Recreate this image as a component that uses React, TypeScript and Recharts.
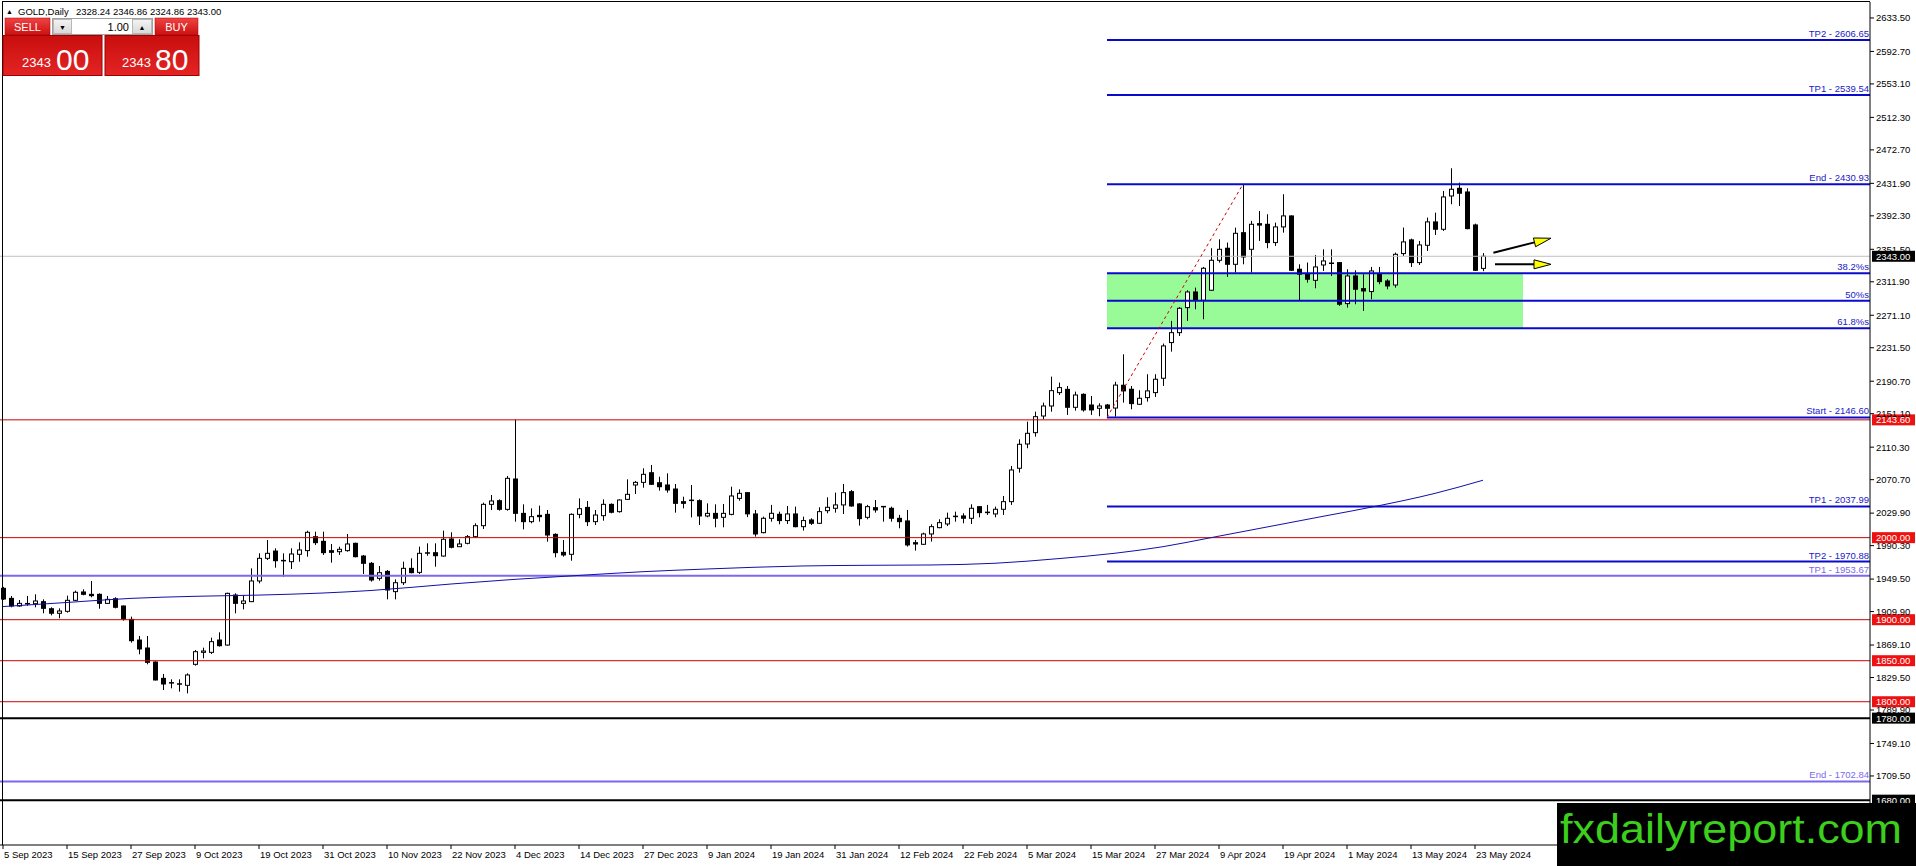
import React from 'react';
import { ComposedChart, Bar, Line, XAxis, YAxis, ReferenceLine, ReferenceArea } from 'recharts';

const FONT = '"Liberation Sans", Arial, sans-serif';

// ---- Daily OHLC (bar index 0 = 5 Sep 2023 ... 185 = 24 May 2024) ----
const opens = [
  1938.2, 1926.0, 1916.7, 1919.5, 1919.5, 1922.0, 1913.4, 1907.8, 1910.2, 1923.6,
  1933.8, 1930.9, 1930.9, 1919.9, 1925.6, 1916.7, 1900.4, 1875.2, 1865.5, 1848.4,
  1828.5, 1823.0, 1821.6, 1820.0, 1845.6, 1860.2, 1860.2, 1875.2, 1869.1, 1930.1,
  1919.9, 1922.0, 1947.2, 1974.8, 1983.7, 1972.0, 1970.7, 1979.7, 1984.2, 2001.2,
  1995.5, 1984.2, 1982.9, 1984.2, 1993.1, 1977.6, 1968.7, 1950.4, 1958.9, 1934.2,
  1945.1, 1962.6, 1957.7, 1981.3, 1981.7, 1977.6, 1998.4, 1989.0, 1993.1, 2001.2,
  2014.6, 2040.6, 2045.1, 2034.5, 2071.5, 2029.6, 2019.5, 2027.2, 2028.4, 2004.0,
  1982.1, 1979.7, 2028.4, 2036.9, 2019.5, 2026.8, 2040.6, 2031.7, 2046.7, 2064.2,
  2067.4, 2079.2, 2067.0, 2064.2, 2059.3, 2043.9, 2045.5, 2045.1, 2026.4, 2029.6,
  2024.8, 2028.4, 2047.9, 2054.9, 2028.9, 2006.1, 2023.6, 2028.5, 2020.8, 2028.9,
  2013.4, 2021.6, 2017.5, 2032.9, 2035.8, 2039.9, 2056.1, 2041.1, 2024.8, 2036.6,
  2037.8, 2035.8, 2023.6, 2020.4, 1993.9, 1991.9, 2004.5, 2012.2, 2016.7, 2025.6,
  2026.5, 2023.6, 2037.8, 2030.5, 2028.9, 2034.6, 2043.9, 2084.6, 2114.2, 2128.0,
  2148.3, 2160.5, 2176.8, 2180.8, 2158.9, 2174.7, 2161.7, 2157.7, 2161.7, 2158.0,
  2185.8, 2180.9, 2162.6, 2170.7, 2176.8, 2194.3, 2237.8, 2249.9, 2280.4, 2299.5,
  2289.4, 2301.6, 2338.1, 2352.8, 2333.2, 2371.8, 2351.5, 2382.8, 2382.0, 2359.7,
  2378.8, 2392.2, 2327.2, 2321.9, 2313.7, 2332.4, 2334.5, 2335.3, 2285.3, 2319.0,
  2303.6, 2300.0, 2321.9, 2312.9, 2308.0, 2346.3, 2363.0, 2335.3, 2356.4, 2384.9,
  2375.9, 2416.5, 2425.9, 2421.4, 2381.2, 2328.24,
];
const highs = [
  1940.0, 1928.9, 1924.0, 1929.0, 1930.9, 1924.8, 1915.1, 1913.8, 1929.3, 1935.4,
  1937.0, 1947.2, 1932.1, 1928.9, 1927.3, 1917.2, 1903.7, 1880.1, 1880.1, 1849.2,
  1833.8, 1827.3, 1827.3, 1834.6, 1863.0, 1865.9, 1878.1, 1884.6, 1932.9, 1932.1,
  1930.1, 1962.6, 1980.9, 1997.1, 1987.0, 1980.9, 1987.0, 1994.3, 2008.5, 2007.3,
  2007.3, 1992.3, 1989.0, 2004.5, 1993.9, 1978.9, 1970.3, 1965.4, 1960.6, 1949.2,
  1970.7, 1974.8, 1989.0, 1993.1, 1993.1, 2008.5, 2006.5, 1998.0, 2003.2, 2017.5,
  2042.7, 2052.0, 2046.7, 2075.2, 2144.0, 2040.6, 2035.7, 2039.0, 2033.7, 2005.3,
  1997.1, 2029.6, 2047.9, 2044.7, 2033.7, 2046.7, 2041.8, 2046.7, 2071.1, 2069.1,
  2084.5, 2088.6, 2074.3, 2078.4, 2065.4, 2049.9, 2064.2, 2046.7, 2041.8, 2040.6,
  2041.0, 2062.1, 2058.9, 2055.5, 2033.8, 2025.6, 2039.9, 2031.7, 2038.6, 2037.8,
  2025.6, 2023.6, 2037.0, 2049.2, 2054.9, 2065.5, 2058.1, 2041.9, 2039.9, 2045.9,
  2038.6, 2037.8, 2027.7, 2033.8, 1997.2, 2006.1, 2016.3, 2022.4, 2030.5, 2031.7,
  2029.7, 2040.7, 2038.2, 2039.9, 2037.8, 2050.8, 2087.4, 2119.9, 2141.4, 2153.6,
  2164.6, 2196.3, 2189.0, 2184.9, 2178.0, 2176.0, 2172.7, 2163.8, 2163.0, 2190.0,
  2223.5, 2184.9, 2179.7, 2199.2, 2199.2, 2236.6, 2264.2, 2281.2, 2301.6, 2304.8,
  2330.0, 2352.8, 2363.7, 2359.7, 2377.9, 2430.93, 2386.1, 2398.2, 2394.2, 2384.0,
  2418.6, 2392.8, 2333.2, 2335.3, 2344.6, 2351.5, 2351.5, 2336.0, 2327.2, 2325.9,
  2321.1, 2330.0, 2330.0, 2315.0, 2347.5, 2378.0, 2364.5, 2361.7, 2390.1, 2396.2,
  2422.6, 2450.3, 2432.8, 2425.9, 2382.8, 2346.86,
];
const lows = [
  1924.0, 1915.1, 1915.9, 1917.0, 1915.1, 1907.8, 1905.3, 1901.7, 1908.6, 1922.8,
  1929.7, 1927.3, 1913.4, 1919.1, 1913.8, 1898.8, 1872.0, 1857.8, 1845.6, 1826.0,
  1814.3, 1816.3, 1812.3, 1810.2, 1844.0, 1852.9, 1858.2, 1867.1, 1868.3, 1907.8,
  1912.6, 1921.5, 1944.3, 1972.8, 1963.4, 1952.4, 1961.8, 1970.7, 1976.8, 1991.1,
  1978.9, 1969.5, 1978.9, 1982.9, 1976.0, 1955.7, 1946.4, 1947.6, 1924.8, 1924.8,
  1942.3, 1956.5, 1955.7, 1978.0, 1964.6, 1976.8, 1987.0, 1988.5, 1991.9, 2000.4,
  2010.6, 2033.7, 2032.9, 2032.9, 2019.5, 2010.1, 2017.5, 2019.5, 1995.1, 1976.0,
  1976.8, 1971.9, 2023.6, 2014.2, 2015.4, 2020.7, 2029.6, 2030.5, 2045.9, 2053.2,
  2060.9, 2064.2, 2057.3, 2054.8, 2030.5, 2035.7, 2024.8, 2015.4, 2024.8, 2012.6,
  2012.6, 2027.2, 2045.1, 2025.0, 2001.3, 2005.3, 2019.5, 2016.3, 2016.7, 2012.6,
  2008.6, 2015.5, 2016.7, 2029.7, 2030.5, 2028.9, 2037.8, 2014.7, 2022.4, 2030.5,
  2019.5, 2019.5, 2011.4, 1989.1, 1984.2, 1991.1, 1995.2, 2011.4, 2014.2, 2019.5,
  2017.5, 2016.7, 2024.8, 2027.7, 2024.8, 2027.7, 2039.9, 2079.3, 2109.0, 2123.1,
  2144.3, 2153.6, 2173.9, 2149.6, 2154.8, 2153.6, 2149.6, 2148.0, 2146.6, 2147.5,
  2164.6, 2156.5, 2161.8, 2165.8, 2171.5, 2185.0, 2226.8, 2245.9, 2264.2, 2278.4,
  2266.2, 2300.7, 2335.3, 2317.8, 2323.1, 2333.2, 2323.1, 2361.7, 2352.8, 2355.6,
  2371.8, 2325.1, 2288.5, 2310.9, 2304.0, 2325.1, 2319.0, 2282.5, 2280.4, 2284.5,
  2276.4, 2290.6, 2308.9, 2302.8, 2304.8, 2343.4, 2330.0, 2332.4, 2349.5, 2369.0,
  2373.9, 2406.4, 2404.3, 2375.9, 2325.1, 2324.86,
];
const closes = [
  1925.2, 1916.7, 1919.9, 1919.0, 1922.8, 1913.8, 1907.8, 1910.6, 1923.6, 1933.4,
  1930.9, 1929.3, 1919.9, 1924.8, 1915.1, 1900.9, 1874.4, 1864.3, 1848.0, 1826.5,
  1821.6, 1822.4, 1821.2, 1832.6, 1861.0, 1861.8, 1873.2, 1868.3, 1932.1, 1919.9,
  1922.8, 1947.2, 1974.8, 1980.9, 1971.9, 1971.5, 1980.1, 1985.0, 2006.5, 1993.9,
  1981.7, 1982.1, 1985.8, 1992.3, 1976.8, 1968.7, 1948.4, 1957.3, 1936.2, 1945.1,
  1962.6, 1957.3, 1980.9, 1980.9, 1978.0, 1998.0, 1988.2, 1992.3, 2001.2, 2014.6,
  2040.6, 2044.7, 2034.5, 2072.3, 2029.6, 2019.5, 2025.6, 2025.6, 2003.2, 1981.7,
  1978.9, 2028.4, 2035.3, 2019.5, 2027.6, 2040.6, 2030.9, 2045.9, 2052.8, 2067.4,
  2077.2, 2065.0, 2062.1, 2058.1, 2041.8, 2041.8, 2045.1, 2026.4, 2029.6, 2023.6,
  2029.6, 2050.8, 2054.0, 2029.0, 2004.5, 2023.6, 2029.7, 2020.8, 2028.9, 2013.4,
  2020.8, 2017.5, 2031.7, 2037.0, 2039.9, 2054.9, 2038.6, 2023.2, 2037.8, 2033.8,
  2037.5, 2023.6, 2019.5, 1991.1, 1992.3, 2004.5, 2013.4, 2018.3, 2023.6, 2025.9,
  2023.6, 2035.8, 2030.5, 2030.8, 2034.6, 2043.9, 2082.5, 2113.8, 2127.2, 2147.5,
  2160.5, 2179.2, 2182.9, 2158.9, 2173.9, 2155.7, 2155.7, 2160.5, 2157.7, 2186.0,
  2178.9, 2163.4, 2169.9, 2178.9, 2193.1, 2233.7, 2249.9, 2279.6, 2299.5, 2289.4,
  2328.4, 2338.1, 2351.5, 2333.2, 2371.0, 2342.2, 2382.0, 2381.0, 2359.7, 2378.8,
  2392.2, 2325.9, 2321.1, 2315.0, 2330.0, 2337.3, 2334.0, 2284.5, 2319.0, 2302.8,
  2300.7, 2325.1, 2312.1, 2306.8, 2345.4, 2360.5, 2335.3, 2356.8, 2384.9, 2375.9,
  2415.3, 2424.7, 2419.8, 2376.7, 2325.9, 2343.0,
];

// ---- moving average, read at selected bars ----
const maBars = [0, 8, 16, 24, 32, 40, 46, 56, 64, 72, 80, 88, 100, 108, 116, 124, 132, 139, 145, 151, 158, 165, 172, 179, 185];
const maValues = [1916, 1921, 1926, 1928.5, 1930, 1932.5, 1935.6, 1943.5, 1949.2, 1954, 1958.5, 1961.8, 1965.5, 1966.3, 1966.7, 1968.8, 1974.5, 1981, 1989, 2000, 2013, 2026, 2039, 2054, 2070];

// ---- axes ----
const tickBars = [0, 8, 16, 24, 32, 40, 48, 56, 64, 72, 80, 88, 96, 104, 112, 120, 128, 136, 144, 152, 160, 168, 176, 184];
const tickLabels = [
  '5 Sep 2023', '15 Sep 2023', '27 Sep 2023', '9 Oct 2023', '19 Oct 2023', '31 Oct 2023', '10 Nov 2023', '22 Nov 2023',
  '4 Dec 2023', '14 Dec 2023', '27 Dec 2023', '9 Jan 2024', '19 Jan 2024', '31 Jan 2024', '12 Feb 2024', '22 Feb 2024',
  '5 Mar 2024', '15 Mar 2024', '27 Mar 2024', '9 Apr 2024', '19 Apr 2024', '1 May 2024', '13 May 2024', '23 May 2024',
];
const priceTicks = [2633.5, 2592.7, 2553.1, 2512.3, 2472.7, 2431.9, 2392.3, 2351.5, 2311.9, 2271.1, 2231.5, 2190.7, 2151.1,
  2110.3, 2070.7, 2029.9, 1990.3, 1949.5, 1909.9, 1869.1, 1829.5, 1789.9, 1749.1, 1709.5];
const X_DOMAIN = [-0.375, 233.375];
const Y_DOMAIN = [1625.35, 2652.96];

// ---- drawings ----
const fibStartBar = 138;
const fibEndBar = 155;
const fibStartPrice = 2146.6;
const fibEndPrice = 2430.93;
const zoneEndBar = 190;
const zoneTop = 2322.3;
const zoneBottom = 2255.2;
const fibLevels = [
  { v: 2606.65, text: 'TP2 - 2606.65' },
  { v: 2539.54, text: 'TP1 - 2539.54' },
  { v: 2430.93, text: 'End - 2430.93' },
  { v: 2322.3, text: '38.2%s' },
  { v: 2288.8, text: '50%s' },
  { v: 2255.2, text: '61.8%s' },
  { v: 2146.6, text: 'Start - 2146.60' },
  { v: 2037.99, text: 'TP1 - 2037.99' },
  { v: 1970.88, text: 'TP2 - 1970.88' },
];
const fullLines = [
  { v: 2343.0, color: '#C0C0C0', w: 1, tag: '#000000' },
  { v: 2143.6, color: '#CC0000', w: 1, tag: '#EE1111' },
  { v: 2000.0, color: '#CC0000', w: 1, tag: '#EE1111' },
  { v: 1953.67, color: '#7B68EE', w: 2, text: 'TP1 - 1953.67' },
  { v: 1900.0, color: '#CC0000', w: 1, tag: '#EE1111' },
  { v: 1850.0, color: '#CC0000', w: 1, tag: '#EE1111' },
  { v: 1800.0, color: '#CC0000', w: 1, tag: '#EE1111' },
  { v: 1780.0, color: '#000000', w: 2, tag: '#000000' },
  { v: 1702.84, color: '#7B68EE', w: 2, text: 'End - 1702.84' },
  { v: 1680.0, color: '#000000', w: 2, tag: '#000000' },
];
const arrows = [
  { x1: 186.3, y1: 2347.4, x2: 193.5, y2: 2365.0 },
  { x1: 186.5, y1: 2333.2, x2: 193.5, y2: 2333.2 },
];

const data = opens.map((o, i) => {
  const k = maBars.indexOf(i);
  return { i, o, h: highs[i], l: lows[i], c: closes[i], range: [lows[i], highs[i]], ma: k >= 0 ? maValues[k] : null };
});

function Candle(props: any) {
  const { x, y, width, height, payload } = props;
  if (!payload || x == null || y == null) return null;
  const { o, h, l, c } = payload;
  const top = Math.min(y, y + height);
  const span = Math.abs(height);
  const cx = Math.round(x + width / 2) + 0.5;
  const toY = (p: number) => (h === l ? top : top + ((h - p) / (h - l)) * span);
  const yO = toY(o);
  const yC = toY(c);
  const b0 = Math.min(yO, yC);
  const b1 = Math.max(yO, yC);
  let body;
  if (b1 - b0 < 1.2) {
    body = <rect x={cx - 2.5} y={b0 - 0.75} width={5} height={1.5} fill="#000" />;
  } else if (c >= o) {
    body = <rect x={cx - 2} y={b0} width={4} height={b1 - b0} fill="#fff" stroke="#000" strokeWidth={1} />;
  } else {
    body = <rect x={cx - 2.5} y={b0 - 0.5} width={5} height={b1 - b0 + 1} fill="#000" />;
  }
  return (
    <g>
      <line x1={cx} x2={cx} y1={top} y2={top + span} stroke="#000" strokeWidth={1} />
      {body}
    </g>
  );
}

const makeTag = (bg: string, v: number) => (p: any) => {
  const vb = p.viewBox || {};
  const x = (vb.x || 0) + (vb.width || 0) + 2;
  const y = vb.y || 0;
  return (
    <g>
      <rect x={x} y={y - 5.5} width={43} height={11} fill={bg} />
      <text x={x + 4} y={y + 3.5} fill="#fff" fontSize={9.5} fontFamily={FONT}>{v.toFixed(2)}</text>
    </g>
  );
};

const makeLineText = (text: string, color: string) => (p: any) => {
  const vb = p.viewBox || {};
  return (
    <text x={(vb.x || 0) + (vb.width || 0) - 1} y={(vb.y || 0) - 3} textAnchor="end" fill={color} fontSize={9.5} fontFamily={FONT}>
      {text}
    </text>
  );
};

const ArrowShape = (p: any) => {
  const x1 = Number(p.x1), y1 = Number(p.y1), x2 = Number(p.x2), y2 = Number(p.y2);
  const dx = x2 - x1, dy = y2 - y1;
  const len = Math.hypot(dx, dy) || 1;
  const ux = dx / len, uy = dy / len;
  const hl = 17, hw = 4.5;
  const bx = x2 - ux * hl, by = y2 - uy * hl;
  const pts = `${x2},${y2} ${bx - uy * hw},${by + ux * hw} ${bx + uy * hw},${by - ux * hw}`;
  return (
    <g>
      <line x1={x1} y1={y1} x2={bx} y2={by} stroke="#000" strokeWidth={2} />
      <polygon points={pts} fill="#FFFF00" stroke="#000" strokeWidth={1} />
    </g>
  );
};

const DateTick = (p: any) => {
  const idx = tickBars.indexOf(p.payload?.value);
  return (
    <text x={p.x + 1} y={p.y + 7} textAnchor="start" fontSize={9.5} fontFamily={FONT} fill="#000">
      {idx >= 0 ? tickLabels[idx] : ''}
    </text>
  );
};

function TradePanel() {
  return (
    <svg width={240} height={80} style={{ position: 'absolute', left: 0, top: 0, pointerEvents: 'none' }}>
      <defs>
        <linearGradient id="btnRed" x1="0" y1="0" x2="0" y2="1">
          <stop offset="0" stopColor="#EE4444" />
          <stop offset="1" stopColor="#CC1010" />
        </linearGradient>
        <linearGradient id="bigRed" x1="0" y1="0" x2="0" y2="1">
          <stop offset="0" stopColor="#C80E0E" />
          <stop offset="1" stopColor="#E42424" />
        </linearGradient>
        <linearGradient id="grayBtn" x1="0" y1="0" x2="0" y2="1">
          <stop offset="0" stopColor="#F4F4F4" />
          <stop offset="1" stopColor="#D8D8D8" />
        </linearGradient>
      </defs>
      <text x={6} y={14} fontSize={7} fontFamily={FONT} fill="#000">▲</text>
      <text x={18} y={15} fontSize={9.5} fontFamily={FONT} fill="#000">GOLD,Daily</text>
      <text x={76} y={15} fontSize={9.5} fontFamily={FONT} fill="#000">2328.24 2346.86 2324.86 2343.00</text>

      <rect x={5} y={18} width={45} height={17} fill="url(#btnRed)" stroke="#B00000" strokeWidth={0.5} />
      <text x={27.5} y={30.5} textAnchor="middle" fontSize={11} fontFamily={FONT} fill="#fff">SELL</text>

      <rect x={52.5} y={18.5} width={100} height={16} fill="#fff" stroke="#A0A0A0" />
      <rect x={53.5} y={19.5} width={18} height={14} fill="url(#grayBtn)" stroke="#B8B8B8" />
      <text x={62.5} y={29.5} textAnchor="middle" fontSize={7} fontFamily={FONT} fill="#000">▼</text>
      <text x={129} y={30.5} textAnchor="end" fontSize={11} fontFamily={FONT} fill="#000">1.00</text>
      <rect x={132.5} y={19.5} width={19} height={14} fill="url(#grayBtn)" stroke="#B8B8B8" />
      <text x={142} y={29.5} textAnchor="middle" fontSize={7} fontFamily={FONT} fill="#000">▲</text>

      <rect x={155} y={18} width={43} height={17} fill="url(#btnRed)" stroke="#B00000" strokeWidth={0.5} />
      <text x={176.5} y={30.5} textAnchor="middle" fontSize={11} fontFamily={FONT} fill="#fff">BUY</text>

      <rect x={3} y={35.5} width={99} height={40} fill="url(#bigRed)" stroke="#A00000" strokeWidth={1} />
      <text x={22} y={67} fontSize={13} fontFamily={FONT} fill="#fff">2343</text>
      <text x={56} y={70} fontSize={30} fontFamily={FONT} fill="#fff">00</text>

      <rect x={105} y={35.5} width={94} height={40} fill="url(#bigRed)" stroke="#A00000" strokeWidth={1} />
      <text x={122} y={67} fontSize={13} fontFamily={FONT} fill="#fff">2343</text>
      <text x={155} y={70} fontSize={30} fontFamily={FONT} fill="#fff">80</text>
    </svg>
  );
}

export default function App() {
  return (
    <div style={{ position: 'absolute', left: 0, top: 0, width: 1916, height: 866, background: '#fff', overflow: 'hidden' }}>
      <ComposedChart width={1916} height={866} data={data} margin={{ top: 2, right: 0, bottom: 0, left: 0 }}>
        <XAxis
          dataKey="i"
          type="number"
          domain={X_DOMAIN}
          allowDataOverflow
          ticks={tickBars}
          interval={0}
          height={21}
          tickSize={4}
          tick={DateTick}
          axisLine={{ stroke: '#000' }}
          tickLine={{ stroke: '#000' }}
        />
        <YAxis
          orientation="right"
          width={46}
          domain={Y_DOMAIN}
          allowDataOverflow
          ticks={priceTicks}
          interval={0}
          tickSize={4}
          tickFormatter={(v: number) => v.toFixed(2)}
          tick={{ fill: '#000', fontSize: 9.5, fontFamily: FONT }}
          axisLine={{ stroke: '#000' }}
          tickLine={{ stroke: '#000' }}
        />
        <ReferenceArea x1={fibStartBar} x2={zoneEndBar} y1={zoneBottom} y2={zoneTop} fill="#98FB98" fillOpacity={1} stroke="none" />
        {fullLines.map((l) => (
          <ReferenceLine
            key={'f' + l.v}
            y={l.v}
            stroke={l.color}
            strokeWidth={l.w}
            label={l.tag ? makeTag(l.tag, l.v) : l.text ? makeLineText(l.text, '#7B68EE') : undefined}
          />
        ))}
        {fibLevels.map((l) => (
          <ReferenceLine
            key={'fib' + l.v}
            segment={[{ x: fibStartBar, y: l.v }, { x: X_DOMAIN[1], y: l.v }]}
            stroke="#0A0ACC"
            strokeWidth={2}
            label={makeLineText(l.text, '#2020C8')}
          />
        ))}
        <ReferenceLine
          segment={[{ x: fibStartBar, y: fibStartPrice }, { x: fibEndBar, y: fibEndPrice }]}
          stroke="#CC0000"
          strokeWidth={1}
          strokeDasharray="3 3"
        />
        <Line dataKey="ma" type="monotone" stroke="#1010A8" strokeWidth={1} dot={false} connectNulls isAnimationActive={false} />
        <Bar dataKey="range" barSize={5} shape={Candle} isAnimationActive={false} />
        {arrows.map((a, k) => (
          <ReferenceLine key={'a' + k} segment={[{ x: a.x1, y: a.y1 }, { x: a.x2, y: a.y2 }]} shape={ArrowShape} />
        ))}
      </ComposedChart>

      <div style={{ position: 'absolute', left: 2, top: 1, width: 1868, height: 844, borderLeft: '1px solid #000', borderTop: '1px solid #000', boxSizing: 'border-box', pointerEvents: 'none' }} />
      <TradePanel />
      <div style={{ position: 'absolute', left: 1557, top: 803, width: 359, height: 63, background: '#000' }}>
        <svg width={359} height={63}>
          <text x={3} y={40} fontSize={40} fontFamily={FONT} fill="#3DCF1E" textLength={342} lengthAdjust="spacingAndGlyphs">
            fxdailyreport.com
          </text>
        </svg>
      </div>
    </div>
  );
}
